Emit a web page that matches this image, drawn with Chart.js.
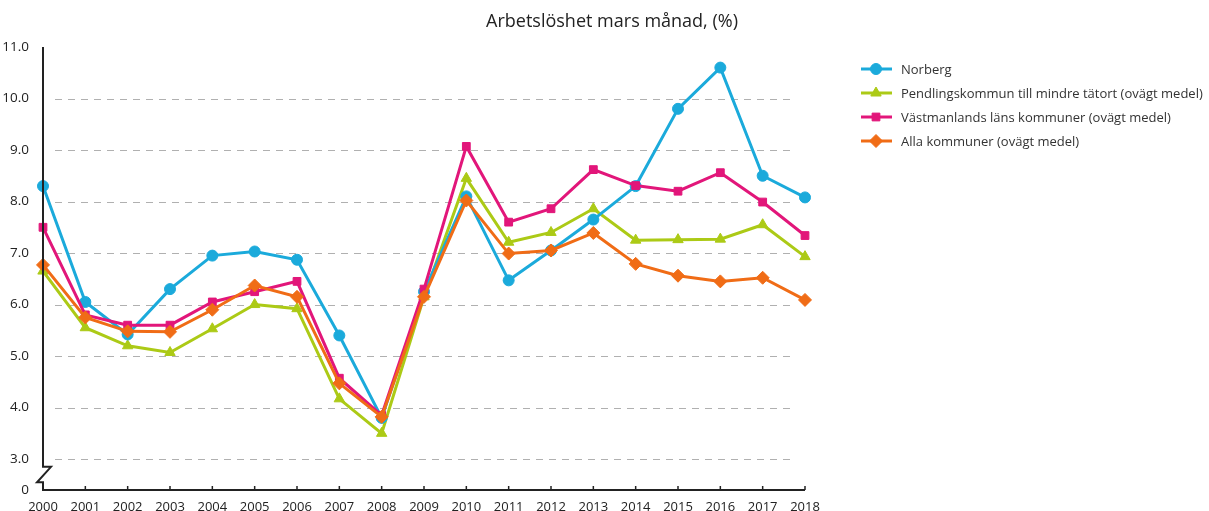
<!DOCTYPE html>
<html>
<head>
<meta charset="utf-8">
<script src="https://cdn.jsdelivr.net/npm/chart.js@4"></script>
<style>
  html, body { margin: 0; padding: 0; background: #fff; }
  #wrap { width: 1209px; height: 511px; position: relative; }
</style>
</head>
<body>
<div id="wrap"><canvas id="unemployChart" width="1209" height="511"></canvas></div>
<script>
const TITLE = "Arbetslöshet mars månad, (%)";
const years = ["2000", "2001", "2002", "2003", "2004", "2005", "2006", "2007", "2008", "2009",
  "2010", "2011", "2012", "2013", "2014", "2015", "2016", "2017", "2018"];

const norberg = [8.3, 6.05, 5.42, 6.3, 6.95, 7.03, 6.87, 5.4, 3.8, 6.25,
  8.1, 6.47, 7.05, 7.65, 8.3, 9.8, 10.6, 8.5, 8.08];
const pendling = [6.65, 5.55, 5.2, 5.07, 5.53, 6.0, 5.92, 4.17, 3.5, 6.15,
  8.45, 7.21, 7.4, 7.86, 7.25, 7.26, 7.27, 7.55, 6.93];
const vastmanland = [7.5, 5.8, 5.6, 5.6, 6.05, 6.25, 6.45, 4.57, 3.85, 6.3,
  9.07, 7.6, 7.86, 8.62, 8.31, 8.2, 8.56, 7.99, 7.34];
const alla = [6.77, 5.75, 5.48, 5.47, 5.9, 6.37, 6.15, 4.47, 3.82, 6.15,
  8.02, 6.99, 7.05, 7.39, 6.79, 6.56, 6.45, 6.52, 6.09];

const seriesNames = [
  "Norberg",
  "Pendlingskommun till mindre tätort (ovägt medel)",
  "Västmanlands läns kommuner (ovägt medel)",
  "Alla kommuner (ovägt medel)",
];

// broken axis: the bottom of the scale stands for 0
const AXIS_BOTTOM = 2.4;
const yTicks = [2.4, 3, 4, 5, 6, 7, 8, 9, 10, 11];
const gridValues = [3, 4, 5, 6, 7, 8, 9, 10];

const COLORS = {
  blue: "rgb(27, 170, 219)",
  green: "rgb(172, 202, 22)",
  magenta: "rgb(226, 22, 122)",
  orange: "rgb(240, 108, 22)",
};

const legendItems = [
  { text: seriesNames[0], color: COLORS.blue, style: "circle", r: 5.5 },
  { text: seriesNames[1], color: COLORS.green, style: "triangle", r: 6 },
  { text: seriesNames[2], color: COLORS.magenta, style: "rect", r: 5.5 },
  { text: seriesNames[3], color: COLORS.orange, style: "rectRot", r: 6.5 },
];

const makeSet = (label, data, color, pointStyle, radius, order) => ({
  label,
  data,
  order,
  borderColor: color,
  backgroundColor: color,
  borderWidth: 3,
  pointStyle,
  pointRadius: radius,
  pointBorderWidth: 1,
  pointBorderColor: color,
  pointBackgroundColor: color,
  tension: 0,
});

const decorPlugin = {
  id: "decor",
  beforeDatasetsDraw(chart) {
    // dashed grid, a little inset from the axes like the original
    const { ctx, chartArea, scales } = chart;
    ctx.save();
    ctx.strokeStyle = "#b0b0b0";
    ctx.lineWidth = 1;
    ctx.setLineDash([7, 6]);
    gridValues.forEach((v) => {
      const py = Math.round(scales.y.getPixelForValue(v)) + 0.5;
      ctx.beginPath();
      ctx.moveTo(chartArea.left + 12, py);
      ctx.lineTo(chartArea.right - 14, py);
      ctx.stroke();
    });
    ctx.restore();
  },
  afterDraw(chart) {
    const { ctx, chartArea, scales } = chart;
    const y = scales.y;
    const x0 = chartArea.left;
    const bottom = chartArea.bottom;

    ctx.save();
    // title
    ctx.fillStyle = "#222";
    ctx.font = "18px 'Open Sans'";
    ctx.textAlign = "center";
    ctx.textBaseline = "middle";
    ctx.fillText(TITLE, 612, 22);

    // y axis with a break mark
    ctx.strokeStyle = "#222";
    ctx.lineWidth = 2;
    const yBreakTop = y.getPixelForValue(2.85);
    const yBreakBot = y.getPixelForValue(2.55);
    ctx.beginPath();
    ctx.moveTo(x0, chartArea.top);
    ctx.lineTo(x0, yBreakTop);
    ctx.lineTo(x0 + 8, yBreakTop);
    ctx.lineTo(x0 - 6, yBreakBot);
    ctx.lineTo(x0, yBreakBot);
    ctx.lineTo(x0, bottom + 1);
    ctx.stroke();

    // x axis line
    ctx.beginPath();
    ctx.moveTo(x0 - 1, bottom);
    ctx.lineTo(chartArea.right, bottom);
    ctx.stroke();

    // small ticks on the x axis
    ctx.lineWidth = 1.5;
    years.forEach((yr, i) => {
      const px = scales.x.getPixelForValue(i);
      ctx.beginPath();
      ctx.moveTo(px, bottom - 4);
      ctx.lineTo(px, bottom);
      ctx.stroke();
    });

    // legend
    ctx.font = "13px 'Open Sans'";
    ctx.textAlign = "left";
    legendItems.forEach((item, i) => {
      const ly = 69 + i * 24;
      ctx.strokeStyle = item.color;
      ctx.lineWidth = 3;
      ctx.beginPath();
      ctx.moveTo(861, ly);
      ctx.lineTo(892, ly);
      ctx.stroke();
      ctx.fillStyle = item.color;
      ctx.strokeStyle = item.color;
      ctx.lineWidth = 1;
      Chart.helpers.drawPoint(ctx, { pointStyle: item.style, radius: item.r, rotation: 0, borderWidth: 1 }, 876, ly);
      ctx.fillStyle = "#333";
      ctx.fillText(item.text, 901, ly + 1);
    });
    ctx.restore();
  },
};

const ctx = document.getElementById("unemployChart").getContext("2d");

new Chart(ctx, {
  type: "line",
  data: {
    labels: years,
    datasets: [
      makeSet(seriesNames[0], norberg, COLORS.blue, "circle", 5.5, 2),
      makeSet(seriesNames[1], pendling, COLORS.green, "triangle", 6, 3),
      makeSet(seriesNames[2], vastmanland, COLORS.magenta, "rect", 5.5, 1),
      makeSet(seriesNames[3], alla, COLORS.orange, "rectRot", 6.5, 0),
    ],
  },
  options: {
    responsive: false,
    animation: false,
    devicePixelRatio: 1,
    layout: {
      padding: { top: 47, right: 404, left: 0, bottom: 0 },
    },
    plugins: {
      legend: { display: false },
      title: { display: false },
      tooltip: { enabled: false },
    },
    scales: {
      x: {
        type: "category",
        offset: false,
        border: { display: false },
        grid: { display: false },
        ticks: {
          color: "#222",
          font: { family: "'Open Sans'", size: 13 },
          maxRotation: 0,
          autoSkip: false,
          padding: 1,
        },
        afterFit: (scale) => {
          scale.height = 21;
        },
      },
      y: {
        min: AXIS_BOTTOM,
        max: 11,
        border: { display: false },
        grid: { display: false },
        afterBuildTicks: (scale) => {
          scale.ticks = yTicks.map((v) => ({ value: v }));
        },
        afterFit: (scale) => {
          scale.width = 43;
        },
        ticks: {
          color: "#222",
          font: { family: "'Open Sans'", size: 13.5 },
          padding: 6,
          callback: (value) => (value === AXIS_BOTTOM ? "0" : value.toFixed(1)),
        },
      },
    },
  },
  plugins: [decorPlugin],
});
</script>
</body>
</html>
